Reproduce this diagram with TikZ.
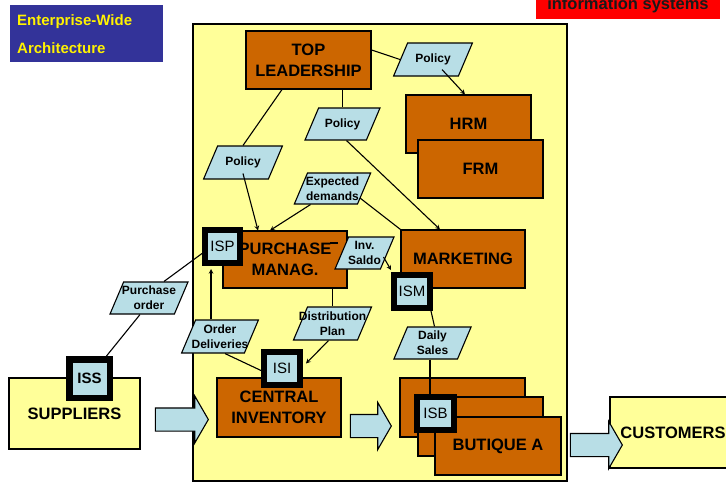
\documentclass[tikz,border=0pt]{standalone}
\usepackage{fontspec}
\setmainfont{Liberation Sans}
\usepackage{tikz}
\usetikzlibrary{shapes.geometric,shapes.arrows,arrows}
\definecolor{burnt}{RGB}{204,102,0}
\definecolor{paleyellow}{RGB}{255,255,153}
\definecolor{paleblue}{RGB}{184,222,230}
\definecolor{navy}{RGB}{51,51,153}
\newcommand\unitfont{\fontsize{16.5}{21}\selectfont\bfseries}
\newcommand\infofont{\fontsize{12}{15}\selectfont\bfseries}
\newcommand\sysfont{\fontsize{15}{18}\selectfont}

\begin{document}
\begin{tikzpicture}[x=1pt,y=-1pt,
    unit/.style={rectangle,draw,line width=1.1pt,fill=burnt,minimum width=125pt,minimum height=58pt,inner sep=0pt,align=center,font=\unitfont},
    party/.style={unit,fill=paleyellow},
    info/.style={trapezium,trapezium left angle=67,trapezium right angle=113,draw,line width=1.1pt,fill=paleblue,minimum size=0pt,inner xsep=25pt,inner ysep=16pt},
    infotext/.style={font=\infofont,align=center,inner sep=0pt},
    sys/.style={rectangle,draw,line width=6pt,fill=paleblue,minimum width=36pt,minimum height=33pt,inner sep=0pt,font=\sysfont},
    flow/.style={single arrow,draw,line width=1.1pt,fill=paleblue,single arrow tip angle=120,single arrow head extend=12pt,inner sep=0pt,text height=11pt,text depth=11pt},
    action/.style={->,>=stealth,line width=1.1pt},
    link/.style={line width=1.1pt}
]
\useasboundingbox (0,0) rectangle (726,482);

% Banners
\node[fill=navy,minimum width=153pt,minimum height=57pt] (banner) at (86.5,33.5) {};
\node[anchor=base west,inner sep=0pt,text=yellow,font=\fontsize{15}{18}\selectfont\bfseries] (ttl1) at (17,25) {Enterprise-Wide};
\node[anchor=base west,inner sep=0pt,text=yellow,font=\fontsize{15}{18}\selectfont\bfseries] (ttl2) at (17,53) {Architecture};
\node[fill=red,minimum width=184pt,minimum height=24pt] (isbanner) at (628,7) {};
\node[anchor=base,inner sep=0pt,text=black!90,font=\fontsize{16.5}{18}\selectfont\bfseries] (istitle) at (628,9.5) {information systems};

% Organisation
\node[rectangle,draw,line width=1.1pt,fill=paleyellow,minimum width=374pt,minimum height=457pt] (org) at (380,252.5) {};

% Units
\node[unit] (lead) at (308.5,60) {TOP\\LEADERSHIP};
\node[unit] (hrm) at (468.5,124) {HRM};
\node[unit] (frm) at (480.5,169) {FRM};
\node[unit,minimum width=124pt,minimum height=57pt] (pur) at (285,259.5) {PURCHASE\\MANAG.};
\node[unit,minimum width=124pt] (mkt) at (463,259) {MARKETING};
\node[unit,minimum width=124pt,minimum height=59pt] (inv) at (279,407.5) {CENTRAL\\INVENTORY};
\node[unit,minimum height=59pt] (but1) at (462.5,407.5) {};
\node[unit,minimum height=59pt] (but2) at (480.5,426.5) {};
\node[unit,minimum width=126pt] (but3) at (498,446) {BUTIQUE A};

% Outside parties
\node[party,minimum width=131pt,minimum height=71pt] (sup) at (74.5,413.5) {SUPPLIERS};
\node[party,minimum width=126pt,minimum height=71pt] (cust) at (673,432.5) {CUSTOMERS};

% Goods flow
\node[flow,minimum height=53pt] (fl1) at (178.5,419.5) {};
\node[flow,minimum height=41pt] (fl2) at (367.5,426) {};
\node[flow,minimum height=52pt] (fl3) at (593,445) {};

% Information
\node[info,inner xsep=25.4pt,inner ysep=16.5pt,label={[infotext]center:Policy}] (poltop) at (433,59.5) {};
\node[info,inner xsep=23.9pt,label={[infotext]center:Policy}] (polmid) at (342.5,124) {};
\node[info,inner xsep=25.4pt,inner ysep=16.5pt,label={[infotext]center:Policy}] (polleft) at (243,162.5) {};
\node[info,inner ysep=15.5pt,label={[infotext]center:{Expected\\demands}}] (expdem) at (332.5,188.5) {};
\node[info,inner xsep=15.9pt,label={[infotext]center:{Inv.\\Saldo}}] (invsaldo) at (364.5,253) {};
\node[info,inner xsep=25.4pt,label={[infotext]center:{Purchase\\order}}] (purord) at (149,298) {};
\node[info,inner xsep=24.4pt,inner ysep=16.5pt,label={[infotext]center:{Order\\Deliveries}}] (orddel) at (220,336.5) {};
\node[info,inner ysep=16.5pt,label={[infotext]center:{Distribution\\Plan}}] (distplan) at (332.5,323.5) {};
\node[info,label={[infotext]center:{Daily\\Sales}}] (daily) at (432.5,343) {};

% Connectors
\draw[link] ([yshift=10pt]lead.east) -- (poltop.west);
\draw[action] ([xshift=9pt,yshift=7pt]poltop.south) -- ([xshift=-3.5pt]hrm.north);
\draw[link] (polmid.north |- lead.south) -- (polmid.north);
\draw[action] ([xshift=4pt]polmid.south) -- ([xshift=-23pt]mkt.north);
\draw[link] ([xshift=-26.5pt]lead.south) -- (polleft.north);
\draw[action] ([yshift=6pt]polleft.south) -- ([xshift=-27pt]pur.north);
\draw[action] ([xshift=-22pt]expdem.south) -- ([xshift=-15pt]pur.north);
\draw[link] ([xshift=27.5pt,yshift=-9.5pt]expdem.center) -- (mkt.north west);
\coordinate (tick) at (330,243);
\draw[link,shorten >=3pt] (tick) -- (tick -| invsaldo.west);
\draw[link] (distplan.north |- pur.south) -- (distplan.north);

% Systems
\node[sys,minimum width=35pt] (isp) at (222.5,246.5) {ISP};
\node[sys] (ism) at (412,291.5) {ISM};
\node[sys] (isi) at (282,368.5) {ISI};
\node[sys,minimum width=37pt] (isb) at (435.5,413.5) {ISB};
\node[sys,line width=6.5pt,minimum width=40.5pt,minimum height=38.5pt,font=\sysfont\bfseries] (iss) at (89.5,378.5) {ISS};

\draw[action] ([xshift=19pt,yshift=-4pt]invsaldo.center) -- ([yshift=2pt]ism.north west);
\draw[link] ([xshift=-2pt]ism.south east) -- ([xshift=2pt]daily.north);
\coordinate (dsfoot) at ([xshift=-2.5pt]daily.south);
\draw[link] (dsfoot) -- (dsfoot |- isb.north);
\draw[link] ([yshift=-7pt]isp.west) -- ([xshift=15pt]purord.north);
\draw[link] ([xshift=-9pt]purord.south) -- ([xshift=17pt]iss.north);
\coordinate (odtop) at ([xshift=-9pt]orddel.north);
\draw[action,shorten >=3pt] (odtop) -- (odtop |- isp.south);
\draw[link] ([xshift=5pt]orddel.south) -- ([yshift=-2pt]isi.west);
\draw[action] ([xshift=-4pt]distplan.south) -- ([xshift=3pt,yshift=5pt]isi.east);

\end{tikzpicture}
\end{document}
